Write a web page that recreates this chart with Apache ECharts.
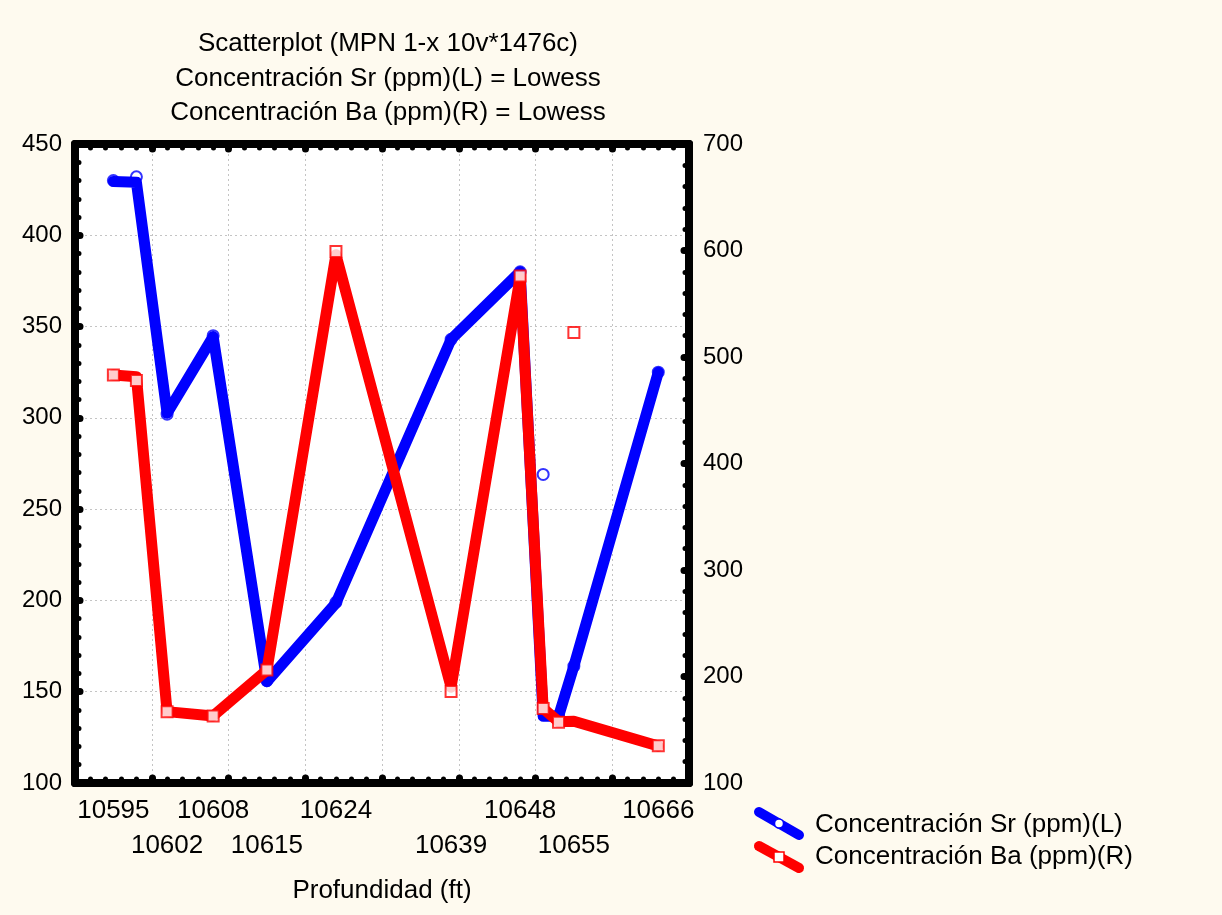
<!DOCTYPE html>
<html>
<head>
<meta charset="utf-8">
<script src="https://cdn.jsdelivr.net/npm/echarts@6/dist/echarts.min.js"></script>
<style>
  html, body { margin: 0; padding: 0; background: #FEFAEF; }
  #chart { width: 1222px; height: 915px; }
</style>
</head>
<body>
<div id="chart"></div>
<script>
// Depth of each sample (ft)
const depth = [10595, 10598, 10602, 10608, 10615, 10624, 10639, 10648, 10651, 10653, 10655, 10666];
// Measured concentrations
const srValues = [430, 432, 302, 345, 156, 199, 343, 380, 269, 137, 164, 325];
const baValues = [483, 478, 167, 163, 206, 599, 186, 576, 170, 157, 523, 135];
// Lowess fits
const srLowess = [429.5, 429, 302.5, 344.5, 155.5, 198.5, 343, 380, 136.5, 136.5, 164, 325];
const baLowess = [483, 481.5, 167, 163, 206, 596, 190, 575, 170, 157.5, 158, 134.7];
// Depth tick labels, staggered in two rows
const xTicksUpper = [10595, 10608, 10624, 10648, 10666];
const xTicksLower = [10602, 10615, 10639, 10655];

const FONT = '"Liberation Sans", Arial, sans-serif';
const FS = 26;
const pairs = (xs, ys) => xs.map((x, i) => [x, ys[i]]);

const frameAxis = {
  axisLine: { show: true, lineStyle: { color: '#000', width: 8 } },
  axisTick: { show: true, inside: true, length: 5, lineStyle: { color: '#000', width: 7, cap: 'round' } },
  minorTick: { show: true, splitNumber: 5, length: 4, lineStyle: { color: '#000', width: 5, cap: 'round' } }
};
const gridLine = { show: true, lineStyle: { color: '#c4c4c4', width: 1, type: [2, 3] } };
const xLabelStyle = { fontFamily: FONT, fontSize: FS, color: '#000', hideOverlap: false, formatter: v => String(v) };

const chart = echarts.init(document.getElementById('chart'));
chart.setOption({
  backgroundColor: '#FEFAEF',
  animation: false,
  grid: { left: 75, right: 533, top: 144, bottom: 132, show: true, backgroundColor: '#ffffff', borderWidth: 0 },
  xAxis: [
    Object.assign({
      type: 'value', min: 10590, max: 10670, interval: 10, position: 'bottom',
      splitLine: gridLine,
      name: 'Profundidad (ft)', nameLocation: 'middle', nameGap: 95,
      nameTextStyle: { fontFamily: FONT, fontSize: FS, color: '#000' },
      axisLabel: Object.assign({ customValues: xTicksUpper, margin: 15 }, xLabelStyle)
    }, frameAxis),
    Object.assign({
      type: 'value', min: 10590, max: 10670, interval: 10, position: 'top',
      splitLine: { show: false }, axisLabel: { show: false }
    }, frameAxis),
    {
      type: 'value', min: 10590, max: 10670, interval: 10, position: 'bottom',
      axisLine: { show: false }, axisTick: { show: false }, minorTick: { show: false },
      splitLine: { show: false },
      axisLabel: Object.assign({ customValues: xTicksLower, margin: 50 }, xLabelStyle)
    }
  ],
  yAxis: [
    Object.assign({
      type: 'value', min: 100, max: 450, interval: 50, position: 'left',
      splitLine: gridLine,
      axisLabel: { fontFamily: FONT, fontSize: 24, color: '#000', margin: 13 }
    }, frameAxis),
    Object.assign({
      type: 'value', min: 100, max: 700, interval: 100, position: 'right',
      splitLine: { show: false },
      axisLabel: { fontFamily: FONT, fontSize: 24, color: '#000', margin: 14 }
    }, frameAxis)
  ],
  series: [
    {
      name: 'Sr points', type: 'scatter', xAxisIndex: 0, yAxisIndex: 0,
      data: pairs(depth, srValues), symbol: 'circle', symbolSize: 11, z: 2,
      itemStyle: { color: '#ffffff', borderColor: '#0000ff', borderWidth: 2 }
    },
    {
      name: 'Concentración Sr (ppm)(L)', type: 'line', xAxisIndex: 0, yAxisIndex: 0,
      data: pairs(depth, srLowess), symbol: 'none', z: 3,
      lineStyle: { color: '#0000ff', width: 11, cap: 'round', join: 'round' }
    },
    {
      name: 'Concentración Ba (ppm)(R)', type: 'line', xAxisIndex: 0, yAxisIndex: 1,
      data: pairs(depth, baLowess), symbol: 'none', z: 4,
      lineStyle: { color: '#ff0000', width: 11, cap: 'round', join: 'round' }
    },
    {
      name: 'Ba points', type: 'scatter', xAxisIndex: 0, yAxisIndex: 1,
      data: pairs(depth, baValues), symbol: 'rect', symbolSize: 11, z: 5,
      itemStyle: { color: '#ffffff', borderColor: '#ff0000', borderWidth: 2 }
    }
  ],
  graphic: [
    // chart title
    { type: 'text', x: 388, y: 44, style: { text: 'Scatterplot (MPN 1-x 10v*1476c)', align: 'center', verticalAlign: 'middle', font: FS + 'px ' + FONT, fill: '#000' } },
    { type: 'text', x: 388, y: 79, style: { text: 'Concentración Sr (ppm)(L) = Lowess', align: 'center', verticalAlign: 'middle', font: FS + 'px ' + FONT, fill: '#000' } },
    { type: 'text', x: 388, y: 113, style: { text: 'Concentración Ba (ppm)(R) = Lowess', align: 'center', verticalAlign: 'middle', font: FS + 'px ' + FONT, fill: '#000' } },
    // legend
    { type: 'line', shape: { x1: 759, y1: 812, x2: 799, y2: 835 }, style: { stroke: '#0000ff', lineWidth: 10, lineCap: 'round' } },
    { type: 'circle', shape: { cx: 779, cy: 823.5, r: 4.5 }, style: { fill: '#fff', stroke: '#0000ff', lineWidth: 1.5 } },
    { type: 'text', x: 815, y: 825, style: { text: 'Concentración Sr (ppm)(L)', verticalAlign: 'middle', font: FS + 'px ' + FONT, fill: '#000' } },
    { type: 'line', shape: { x1: 759, y1: 846, x2: 799, y2: 868 }, style: { stroke: '#ff0000', lineWidth: 10, lineCap: 'round' } },
    { type: 'rect', shape: { x: 774, y: 852, width: 10, height: 10 }, style: { fill: '#fff', stroke: '#ff0000', lineWidth: 1.5 } },
    { type: 'text', x: 815, y: 857, style: { text: 'Concentración Ba (ppm)(R)', verticalAlign: 'middle', font: FS + 'px ' + FONT, fill: '#000' } }
  ]
});
</script>
</body>
</html>
